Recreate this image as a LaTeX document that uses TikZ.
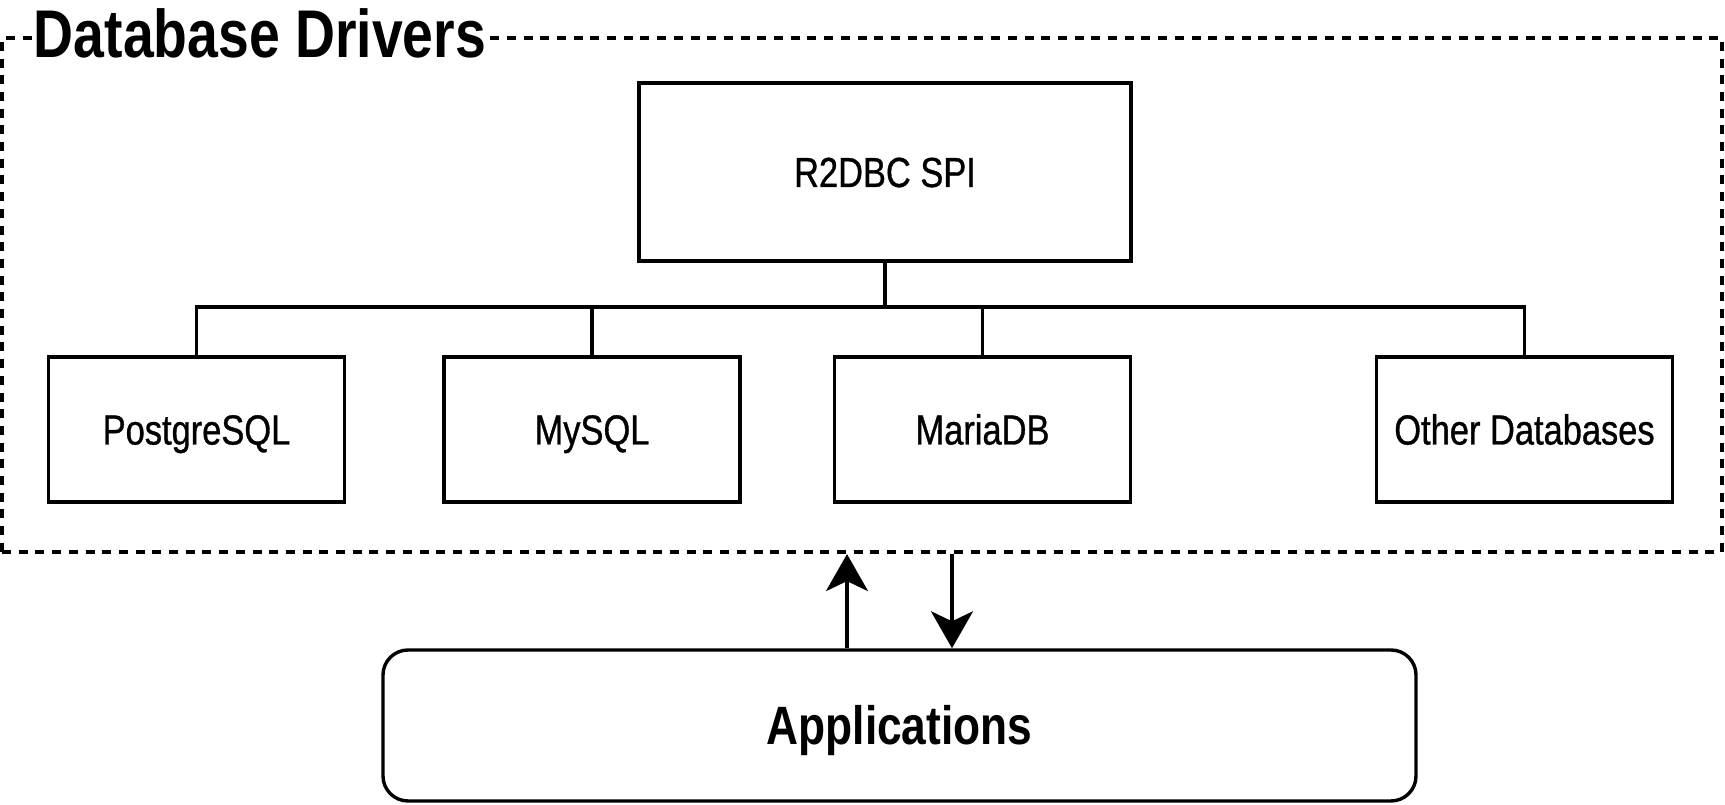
\documentclass[tikz,border=0pt]{standalone}
\usepackage{fontspec}
\setmainfont{Liberation Sans}[FakeStretch=0.82, UprightFeatures={FakeBold=0.8}]
\usetikzlibrary{arrows.meta,positioning}
\tikzstyle{box}=[draw, line width=3.4pt, inner sep=0pt, minimum width=296pt, minimum height=145pt, text height=30pt, text depth=0pt, font=\fontsize{42pt}{50pt}\selectfont]
\tikzstyle{group}=[draw, line width=4.2pt, dash pattern=on 9pt off 7.7pt, minimum width=1720pt, minimum height=514pt]
\tikzstyle{line}=[draw, line width=3.3pt]
\tikzstyle{flow}=[draw, line width=3.3pt, -{Stealth[length=37pt, width=42pt, inset=10pt]}]

\begin{document}
\begin{tikzpicture}[x=1pt, y=1pt]
  \def\xmin{0}
  \def\xmax{1725}
  \def\ymin{0}
  \def\ymax{804}
  \useasboundingbox (\xmin,\ymin) rectangle (\xmax,\ymax);

  % driver group
  \node[group] (drivers) at (862,509) {};
  \node[fill=white, inner xsep=2pt, inner ysep=0pt, anchor=base, font=\fontsize{67.5pt}{80pt}\selectfont\bfseries] (title) at (260,746) {Database Drivers};

  % boxes
  \node[box, minimum width=492pt, minimum height=178pt] (spi) at (885,632) {R2DBC SPI};
  \node[box] (pg) at (196.5,374.5) {PostgreSQL};
  \node[box] (mysql) at (592,374.5) {MySQL};
  \node[box] (maria) at (982.5,374.5) {MariaDB};
  \node[box] (other) at (1524.5,374.5) {Other Databases};

  \node[box, rounded corners=25pt, minimum width=1033pt, minimum height=151pt, text height=38.7pt, font=\fontsize{54pt}{64pt}\selectfont\bfseries] (app) at (899.5,78.5) {Applications};

  % tree lines
  \coordinate (bus) at (885,497);
  \draw[line] (spi.south) -- (bus);
  \draw[line] (pg.north) -- (pg.north |- bus) -- (other.north |- bus) -- (other.north);
  \foreach \n in {mysql,maria}
    \draw[line] (\n.north) -- (\n.north |- bus);

  % calls
  \coordinate (up) at (847,0);
  \coordinate (down) at (952,0);
  \draw[flow] (app.north -| up) -- (drivers.south -| up);
  \draw[flow] (drivers.south -| down) -- (app.north -| down);
\end{tikzpicture}
\end{document}
